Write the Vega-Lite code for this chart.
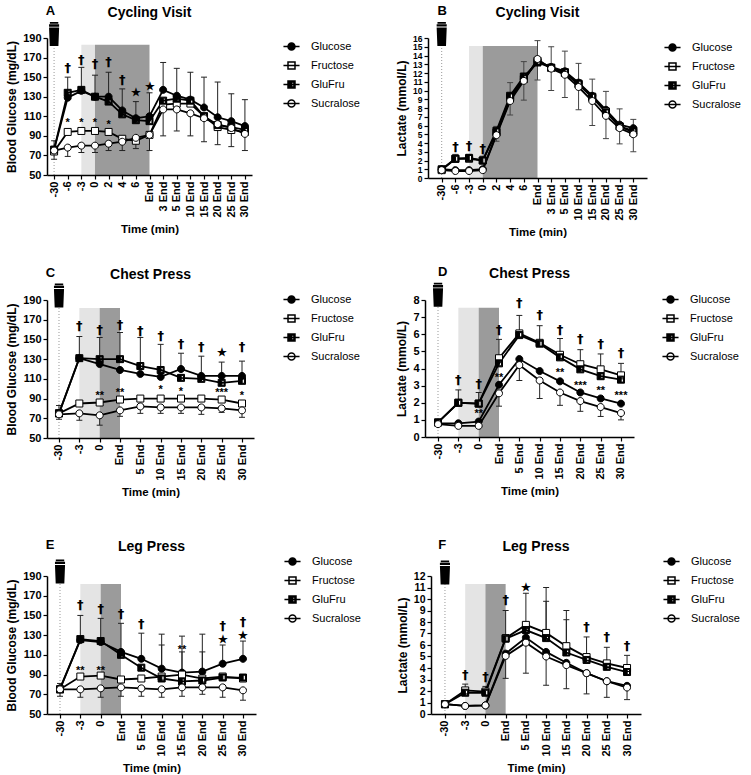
{
"$schema":"https://vega.github.io/schema/vega-lite/v6.json",
"background":"white",
"config":{
 "font":"Liberation Sans",
 "view":{"stroke":null},
 "axis":{"labelFont":"Liberation Sans","labelFontSize":11,"labelFontWeight":"bold","labelColor":"black","titleFont":"Liberation Sans","titleFontSize":12,"titleFontWeight":"bold","titleColor":"black","domainColor":"black","domainWidth":1.5,"tickColor":"black","tickWidth":1.2,"tickSize":4,"grid":false,"labelPadding":2,"labelOverlap":false},
 "axisX":{"labelAngle":-90,"titleFontSize":11.5,"titlePadding":6},
 "axisY":{"titlePadding":4},
 "title":{"font":"Liberation Sans","fontSize":14,"fontWeight":"bold","color":"black","offset":2},
 "legend":{"labelFont":"Liberation Sans","labelFontSize":11,"labelColor":"black","symbolSize":49,"labelOffset":14,"rowPadding":6}
},
"datasets":{
"pts":[
{"p":"A","s":"Glucose","t":"-30","v":76},{"p":"A","s":"Glucose","t":"-6","v":129},{"p":"A","s":"Glucose","t":"-3","v":136},{"p":"A","s":"Glucose","t":"0","v":130},{"p":"A","s":"Glucose","t":"2","v":130},{"p":"A","s":"Glucose","t":"4","v":116},{"p":"A","s":"Glucose","t":"6","v":108},{"p":"A","s":"Glucose","t":"End","v":110},{"p":"A","s":"Glucose","t":"3 End","v":137},{"p":"A","s":"Glucose","t":"5 End","v":131},{"p":"A","s":"Glucose","t":"10 End","v":127},{"p":"A","s":"Glucose","t":"15 End","v":119},{"p":"A","s":"Glucose","t":"20 End","v":109},{"p":"A","s":"Glucose","t":"25 End","v":105},{"p":"A","s":"Glucose","t":"30 End","v":100},
{"p":"A","s":"Fructose","t":"-30","v":74},{"p":"A","s":"Fructose","t":"-6","v":94},{"p":"A","s":"Fructose","t":"-3","v":95},{"p":"A","s":"Fructose","t":"0","v":95},{"p":"A","s":"Fructose","t":"2","v":94},{"p":"A","s":"Fructose","t":"4","v":87},{"p":"A","s":"Fructose","t":"6","v":85},{"p":"A","s":"Fructose","t":"End","v":91},{"p":"A","s":"Fructose","t":"3 End","v":122},{"p":"A","s":"Fructose","t":"5 End","v":123},{"p":"A","s":"Fructose","t":"10 End","v":123},{"p":"A","s":"Fructose","t":"15 End","v":110},{"p":"A","s":"Fructose","t":"20 End","v":99},{"p":"A","s":"Fructose","t":"25 End","v":96},{"p":"A","s":"Fructose","t":"30 End","v":94},
{"p":"A","s":"GluFru","t":"-30","v":76},{"p":"A","s":"GluFru","t":"-6","v":134},{"p":"A","s":"GluFru","t":"-3","v":137},{"p":"A","s":"GluFru","t":"0","v":130},{"p":"A","s":"GluFru","t":"2","v":125},{"p":"A","s":"GluFru","t":"4","v":112},{"p":"A","s":"GluFru","t":"6","v":106},{"p":"A","s":"GluFru","t":"End","v":105},{"p":"A","s":"GluFru","t":"3 End","v":126},{"p":"A","s":"GluFru","t":"5 End","v":128},{"p":"A","s":"GluFru","t":"10 End","v":126},{"p":"A","s":"GluFru","t":"15 End","v":110},{"p":"A","s":"GluFru","t":"20 End","v":101},{"p":"A","s":"GluFru","t":"25 End","v":99},{"p":"A","s":"GluFru","t":"30 End","v":96},
{"p":"A","s":"Sucralose","t":"-30","v":75},{"p":"A","s":"Sucralose","t":"-6","v":78},{"p":"A","s":"Sucralose","t":"-3","v":80},{"p":"A","s":"Sucralose","t":"0","v":80},{"p":"A","s":"Sucralose","t":"2","v":82},{"p":"A","s":"Sucralose","t":"4","v":84},{"p":"A","s":"Sucralose","t":"6","v":88},{"p":"A","s":"Sucralose","t":"End","v":91},{"p":"A","s":"Sucralose","t":"3 End","v":117},{"p":"A","s":"Sucralose","t":"5 End","v":117},{"p":"A","s":"Sucralose","t":"10 End","v":113},{"p":"A","s":"Sucralose","t":"15 End","v":108},{"p":"A","s":"Sucralose","t":"20 End","v":102},{"p":"A","s":"Sucralose","t":"25 End","v":98},{"p":"A","s":"Sucralose","t":"30 End","v":92},
{"p":"B","s":"Glucose","t":"-30","v":1.0},{"p":"B","s":"Glucose","t":"-6","v":0.9},{"p":"B","s":"Glucose","t":"-3","v":0.9},{"p":"B","s":"Glucose","t":"0","v":1.0},{"p":"B","s":"Glucose","t":"2","v":5.0},{"p":"B","s":"Glucose","t":"4","v":9.0},{"p":"B","s":"Glucose","t":"6","v":11.3},{"p":"B","s":"Glucose","t":"End","v":13.3},{"p":"B","s":"Glucose","t":"3 End","v":12.7},{"p":"B","s":"Glucose","t":"5 End","v":12.2},{"p":"B","s":"Glucose","t":"10 End","v":10.9},{"p":"B","s":"Glucose","t":"15 End","v":9.4},{"p":"B","s":"Glucose","t":"20 End","v":7.8},{"p":"B","s":"Glucose","t":"25 End","v":6.1},{"p":"B","s":"Glucose","t":"30 End","v":5.7},
{"p":"B","s":"Fructose","t":"-30","v":0.9},{"p":"B","s":"Fructose","t":"-6","v":2.2},{"p":"B","s":"Fructose","t":"-3","v":2.2},{"p":"B","s":"Fructose","t":"0","v":2.0},{"p":"B","s":"Fructose","t":"2","v":5.2},{"p":"B","s":"Fructose","t":"4","v":9.2},{"p":"B","s":"Fructose","t":"6","v":11.3},{"p":"B","s":"Fructose","t":"End","v":13.4},{"p":"B","s":"Fructose","t":"3 End","v":12.6},{"p":"B","s":"Fructose","t":"5 End","v":12.0},{"p":"B","s":"Fructose","t":"10 End","v":10.7},{"p":"B","s":"Fructose","t":"15 End","v":9.2},{"p":"B","s":"Fructose","t":"20 End","v":7.6},{"p":"B","s":"Fructose","t":"25 End","v":5.9},{"p":"B","s":"Fructose","t":"30 End","v":5.2},
{"p":"B","s":"GluFru","t":"-30","v":1.0},{"p":"B","s":"GluFru","t":"-6","v":2.2},{"p":"B","s":"GluFru","t":"-3","v":2.3},{"p":"B","s":"GluFru","t":"0","v":2.0},{"p":"B","s":"GluFru","t":"2","v":5.4},{"p":"B","s":"GluFru","t":"4","v":9.4},{"p":"B","s":"GluFru","t":"6","v":11.6},{"p":"B","s":"GluFru","t":"End","v":13.2},{"p":"B","s":"GluFru","t":"3 End","v":12.6},{"p":"B","s":"GluFru","t":"5 End","v":12.1},{"p":"B","s":"GluFru","t":"10 End","v":10.8},{"p":"B","s":"GluFru","t":"15 End","v":9.3},{"p":"B","s":"GluFru","t":"20 End","v":7.5},{"p":"B","s":"GluFru","t":"25 End","v":5.9},{"p":"B","s":"GluFru","t":"30 End","v":5.4},
{"p":"B","s":"Sucralose","t":"-30","v":0.9},{"p":"B","s":"Sucralose","t":"-6","v":0.8},{"p":"B","s":"Sucralose","t":"-3","v":0.8},{"p":"B","s":"Sucralose","t":"0","v":0.9},{"p":"B","s":"Sucralose","t":"2","v":4.9},{"p":"B","s":"Sucralose","t":"4","v":8.8},{"p":"B","s":"Sucralose","t":"6","v":11.1},{"p":"B","s":"Sucralose","t":"End","v":13.6},{"p":"B","s":"Sucralose","t":"3 End","v":12.5},{"p":"B","s":"Sucralose","t":"5 End","v":11.8},{"p":"B","s":"Sucralose","t":"10 End","v":10.4},{"p":"B","s":"Sucralose","t":"15 End","v":8.8},{"p":"B","s":"Sucralose","t":"20 End","v":7.1},{"p":"B","s":"Sucralose","t":"25 End","v":5.7},{"p":"B","s":"Sucralose","t":"30 End","v":5.0},
{"p":"C","s":"Glucose","t":"-30","v":75},{"p":"C","s":"Glucose","t":"-3","v":131},{"p":"C","s":"Glucose","t":"0","v":125},{"p":"C","s":"Glucose","t":"End","v":119},{"p":"C","s":"Glucose","t":"5 End","v":115},{"p":"C","s":"Glucose","t":"10 End","v":112},{"p":"C","s":"Glucose","t":"15 End","v":120},{"p":"C","s":"Glucose","t":"20 End","v":113},{"p":"C","s":"Glucose","t":"25 End","v":113},{"p":"C","s":"Glucose","t":"30 End","v":113},
{"p":"C","s":"Fructose","t":"-30","v":75},{"p":"C","s":"Fructose","t":"-3","v":85},{"p":"C","s":"Fructose","t":"0","v":86},{"p":"C","s":"Fructose","t":"End","v":89},{"p":"C","s":"Fructose","t":"5 End","v":90},{"p":"C","s":"Fructose","t":"10 End","v":90},{"p":"C","s":"Fructose","t":"15 End","v":90},{"p":"C","s":"Fructose","t":"20 End","v":90},{"p":"C","s":"Fructose","t":"25 End","v":89},{"p":"C","s":"Fructose","t":"30 End","v":85},
{"p":"C","s":"GluFru","t":"-30","v":75},{"p":"C","s":"GluFru","t":"-3","v":131},{"p":"C","s":"GluFru","t":"0","v":130},{"p":"C","s":"GluFru","t":"End","v":130},{"p":"C","s":"GluFru","t":"5 End","v":123},{"p":"C","s":"GluFru","t":"10 End","v":119},{"p":"C","s":"GluFru","t":"15 End","v":111},{"p":"C","s":"GluFru","t":"20 End","v":110},{"p":"C","s":"GluFru","t":"25 End","v":106},{"p":"C","s":"GluFru","t":"30 End","v":108},
{"p":"C","s":"Sucralose","t":"-30","v":74},{"p":"C","s":"Sucralose","t":"-3","v":75},{"p":"C","s":"Sucralose","t":"0","v":73},{"p":"C","s":"Sucralose","t":"End","v":78},{"p":"C","s":"Sucralose","t":"5 End","v":82},{"p":"C","s":"Sucralose","t":"10 End","v":81},{"p":"C","s":"Sucralose","t":"15 End","v":81},{"p":"C","s":"Sucralose","t":"20 End","v":81},{"p":"C","s":"Sucralose","t":"25 End","v":80},{"p":"C","s":"Sucralose","t":"30 End","v":78},
{"p":"D","s":"Glucose","t":"-30","v":0.8},{"p":"D","s":"Glucose","t":"-3","v":0.8},{"p":"D","s":"Glucose","t":"0","v":0.9},{"p":"D","s":"Glucose","t":"End","v":3.05},{"p":"D","s":"Glucose","t":"5 End","v":4.55},{"p":"D","s":"Glucose","t":"10 End","v":3.85},{"p":"D","s":"Glucose","t":"15 End","v":3.25},{"p":"D","s":"Glucose","t":"20 End","v":2.6},{"p":"D","s":"Glucose","t":"25 End","v":2.25},{"p":"D","s":"Glucose","t":"30 End","v":1.95},
{"p":"D","s":"Fructose","t":"-30","v":0.85},{"p":"D","s":"Fructose","t":"-3","v":2.0},{"p":"D","s":"Fructose","t":"0","v":1.95},{"p":"D","s":"Fructose","t":"End","v":4.6},{"p":"D","s":"Fructose","t":"5 End","v":6.05},{"p":"D","s":"Fructose","t":"10 End","v":5.5},{"p":"D","s":"Fructose","t":"15 End","v":4.8},{"p":"D","s":"Fructose","t":"20 End","v":4.25},{"p":"D","s":"Fructose","t":"25 End","v":3.95},{"p":"D","s":"Fructose","t":"30 End","v":3.6},
{"p":"D","s":"GluFru","t":"-30","v":0.85},{"p":"D","s":"GluFru","t":"-3","v":2.0},{"p":"D","s":"GluFru","t":"0","v":1.95},{"p":"D","s":"GluFru","t":"End","v":4.3},{"p":"D","s":"GluFru","t":"5 End","v":5.95},{"p":"D","s":"GluFru","t":"10 End","v":5.45},{"p":"D","s":"GluFru","t":"15 End","v":4.65},{"p":"D","s":"GluFru","t":"20 End","v":3.95},{"p":"D","s":"GluFru","t":"25 End","v":3.55},{"p":"D","s":"GluFru","t":"30 End","v":3.35},
{"p":"D","s":"Sucralose","t":"-30","v":0.75},{"p":"D","s":"Sucralose","t":"-3","v":0.65},{"p":"D","s":"Sucralose","t":"0","v":0.65},{"p":"D","s":"Sucralose","t":"End","v":2.55},{"p":"D","s":"Sucralose","t":"5 End","v":4.2},{"p":"D","s":"Sucralose","t":"10 End","v":3.3},{"p":"D","s":"Sucralose","t":"15 End","v":2.6},{"p":"D","s":"Sucralose","t":"20 End","v":2.1},{"p":"D","s":"Sucralose","t":"25 End","v":1.75},{"p":"D","s":"Sucralose","t":"30 End","v":1.4},
{"p":"E","s":"Glucose","t":"-30","v":76},{"p":"E","s":"Glucose","t":"-3","v":125},{"p":"E","s":"Glucose","t":"0","v":123},{"p":"E","s":"Glucose","t":"End","v":113},{"p":"E","s":"Glucose","t":"5 End","v":106},{"p":"E","s":"Glucose","t":"10 End","v":96},{"p":"E","s":"Glucose","t":"15 End","v":92},{"p":"E","s":"Glucose","t":"20 End","v":93},{"p":"E","s":"Glucose","t":"25 End","v":101},{"p":"E","s":"Glucose","t":"30 End","v":106},
{"p":"E","s":"Fructose","t":"-30","v":75},{"p":"E","s":"Fructose","t":"-3","v":88},{"p":"E","s":"Fructose","t":"0","v":89},{"p":"E","s":"Fructose","t":"End","v":85},{"p":"E","s":"Fructose","t":"5 End","v":86},{"p":"E","s":"Fructose","t":"10 End","v":88},{"p":"E","s":"Fructose","t":"15 End","v":90},{"p":"E","s":"Fructose","t":"20 End","v":86},{"p":"E","s":"Fructose","t":"25 End","v":88},{"p":"E","s":"Fructose","t":"30 End","v":86},
{"p":"E","s":"GluFru","t":"-30","v":75},{"p":"E","s":"GluFru","t":"-3","v":126},{"p":"E","s":"GluFru","t":"0","v":124},{"p":"E","s":"GluFru","t":"End","v":110},{"p":"E","s":"GluFru","t":"5 End","v":97},{"p":"E","s":"GluFru","t":"10 End","v":86},{"p":"E","s":"GluFru","t":"15 End","v":83},{"p":"E","s":"GluFru","t":"20 End","v":84},{"p":"E","s":"GluFru","t":"25 End","v":87},{"p":"E","s":"GluFru","t":"30 End","v":87},
{"p":"E","s":"Sucralose","t":"-30","v":75},{"p":"E","s":"Sucralose","t":"-3","v":75},{"p":"E","s":"Sucralose","t":"0","v":76},{"p":"E","s":"Sucralose","t":"End","v":77},{"p":"E","s":"Sucralose","t":"5 End","v":76},{"p":"E","s":"Sucralose","t":"10 End","v":75},{"p":"E","s":"Sucralose","t":"15 End","v":77},{"p":"E","s":"Sucralose","t":"20 End","v":77},{"p":"E","s":"Sucralose","t":"25 End","v":77},{"p":"E","s":"Sucralose","t":"30 End","v":74},
{"p":"F","s":"Glucose","t":"-30","v":0.85},{"p":"F","s":"Glucose","t":"-3","v":0.7},{"p":"F","s":"Glucose","t":"0","v":0.75},{"p":"F","s":"Glucose","t":"End","v":5.25},{"p":"F","s":"Glucose","t":"5 End","v":6.65},{"p":"F","s":"Glucose","t":"10 End","v":5.4},{"p":"F","s":"Glucose","t":"15 End","v":4.45},{"p":"F","s":"Glucose","t":"20 End","v":3.55},{"p":"F","s":"Glucose","t":"25 End","v":2.85},{"p":"F","s":"Glucose","t":"30 End","v":2.45},
{"p":"F","s":"Fructose","t":"-30","v":0.85},{"p":"F","s":"Fructose","t":"-3","v":2.05},{"p":"F","s":"Fructose","t":"0","v":1.95},{"p":"F","s":"Fructose","t":"End","v":6.6},{"p":"F","s":"Fructose","t":"5 End","v":7.75},{"p":"F","s":"Fructose","t":"10 End","v":7.05},{"p":"F","s":"Fructose","t":"15 End","v":5.9},{"p":"F","s":"Fructose","t":"20 End","v":4.95},{"p":"F","s":"Fructose","t":"25 End","v":4.4},{"p":"F","s":"Fructose","t":"30 End","v":4.0},
{"p":"F","s":"GluFru","t":"-30","v":0.85},{"p":"F","s":"GluFru","t":"-3","v":1.85},{"p":"F","s":"GluFru","t":"0","v":1.85},{"p":"F","s":"GluFru","t":"End","v":6.55},{"p":"F","s":"GluFru","t":"5 End","v":7.3},{"p":"F","s":"GluFru","t":"10 End","v":6.6},{"p":"F","s":"GluFru","t":"15 End","v":5.35},{"p":"F","s":"GluFru","t":"20 End","v":4.7},{"p":"F","s":"GluFru","t":"25 End","v":4.1},{"p":"F","s":"GluFru","t":"30 End","v":3.65},
{"p":"F","s":"Sucralose","t":"-30","v":0.85},{"p":"F","s":"Sucralose","t":"-3","v":0.7},{"p":"F","s":"Sucralose","t":"0","v":0.75},{"p":"F","s":"Sucralose","t":"End","v":5.05},{"p":"F","s":"Sucralose","t":"5 End","v":6.2},{"p":"F","s":"Sucralose","t":"10 End","v":5.0},{"p":"F","s":"Sucralose","t":"15 End","v":4.25},{"p":"F","s":"Sucralose","t":"20 End","v":3.55},{"p":"F","s":"Sucralose","t":"25 End","v":2.85},{"p":"F","s":"Sucralose","t":"30 End","v":2.3}
],
"err":[
{"p":"A","t":"-30","v":85,"v0":76},{"p":"A","t":"-30","v":66,"v0":75},{"p":"A","t":"-6","v":150,"v0":134},{"p":"A","t":"-6","v":69,"v0":78},{"p":"A","t":"-3","v":160,"v0":137},{"p":"A","t":"-3","v":73,"v0":80},{"p":"A","t":"0","v":152,"v0":130},{"p":"A","t":"0","v":73,"v0":80},{"p":"A","t":"2","v":155,"v0":130},{"p":"A","t":"2","v":75,"v0":82},{"p":"A","t":"4","v":138,"v0":116},{"p":"A","t":"4","v":75,"v0":84},{"p":"A","t":"6","v":125,"v0":108},{"p":"A","t":"6","v":77,"v0":88},{"p":"A","t":"End","v":134,"v0":110},{"p":"A","t":"End","v":75,"v0":91},{"p":"A","t":"3 End","v":165,"v0":137},{"p":"A","t":"3 End","v":90,"v0":117},{"p":"A","t":"5 End","v":159,"v0":131},{"p":"A","t":"5 End","v":95,"v0":117},{"p":"A","t":"10 End","v":155,"v0":127},{"p":"A","t":"10 End","v":90,"v0":113},{"p":"A","t":"15 End","v":150,"v0":119},{"p":"A","t":"15 End","v":84,"v0":108},{"p":"A","t":"20 End","v":145,"v0":109},{"p":"A","t":"20 End","v":81,"v0":102},{"p":"A","t":"25 End","v":133,"v0":105},{"p":"A","t":"25 End","v":79,"v0":98},{"p":"A","t":"30 End","v":127,"v0":100},{"p":"A","t":"30 End","v":75,"v0":92},
{"p":"B","t":"-6","v":2.7,"v0":2.2},{"p":"B","t":"-3","v":2.7,"v0":2.3},{"p":"B","t":"0","v":2.5,"v0":2.0},{"p":"B","t":"2","v":5.9,"v0":5.4},{"p":"B","t":"2","v":4.2,"v0":4.9},{"p":"B","t":"4","v":10.9,"v0":9.4},{"p":"B","t":"4","v":7.2,"v0":8.8},{"p":"B","t":"6","v":13.3,"v0":11.6},{"p":"B","t":"6","v":8.9,"v0":11.1},{"p":"B","t":"End","v":15.7,"v0":13.6},{"p":"B","t":"End","v":11.2,"v0":13.2},{"p":"B","t":"3 End","v":15.0,"v0":12.7},{"p":"B","t":"3 End","v":10.0,"v0":12.5},{"p":"B","t":"5 End","v":14.5,"v0":12.2},{"p":"B","t":"5 End","v":9.2,"v0":11.8},{"p":"B","t":"10 End","v":13.1,"v0":10.9},{"p":"B","t":"10 End","v":7.8,"v0":10.4},{"p":"B","t":"15 End","v":11.3,"v0":9.4},{"p":"B","t":"15 End","v":6.0,"v0":8.8},{"p":"B","t":"20 End","v":9.9,"v0":7.8},{"p":"B","t":"20 End","v":4.5,"v0":7.1},{"p":"B","t":"25 End","v":7.9,"v0":6.1},{"p":"B","t":"25 End","v":3.9,"v0":5.7},{"p":"B","t":"30 End","v":6.7,"v0":5.7},{"p":"B","t":"30 End","v":3.0,"v0":5.0},
{"p":"C","t":"-30","v":83,"v0":75},{"p":"C","t":"-30","v":69,"v0":74},{"p":"C","t":"-3","v":153,"v0":131},{"p":"C","t":"-3","v":68,"v0":75},{"p":"C","t":"0","v":152,"v0":130},{"p":"C","t":"0","v":63,"v0":73},{"p":"C","t":"End","v":157,"v0":130},{"p":"C","t":"End","v":72,"v0":78},{"p":"C","t":"5 End","v":152,"v0":123},{"p":"C","t":"5 End","v":75,"v0":82},{"p":"C","t":"10 End","v":145,"v0":119},{"p":"C","t":"10 End","v":75,"v0":81},{"p":"C","t":"15 End","v":136,"v0":120},{"p":"C","t":"15 End","v":75,"v0":81},{"p":"C","t":"20 End","v":133,"v0":113},{"p":"C","t":"20 End","v":74,"v0":81},{"p":"C","t":"25 End","v":127,"v0":113},{"p":"C","t":"25 End","v":76,"v0":80},{"p":"C","t":"30 End","v":128,"v0":113},{"p":"C","t":"30 End","v":71,"v0":78},
{"p":"D","t":"-3","v":2.75,"v0":2.0},{"p":"D","t":"0","v":2.6,"v0":1.95},{"p":"D","t":"End","v":5.7,"v0":4.6},{"p":"D","t":"End","v":1.8,"v0":2.55},{"p":"D","t":"5 End","v":7.1,"v0":6.05},{"p":"D","t":"5 End","v":3.3,"v0":4.2},{"p":"D","t":"10 End","v":6.5,"v0":5.5},{"p":"D","t":"10 End","v":2.25,"v0":3.3},{"p":"D","t":"15 End","v":5.75,"v0":4.8},{"p":"D","t":"15 End","v":1.85,"v0":2.6},{"p":"D","t":"20 End","v":5.1,"v0":4.25},{"p":"D","t":"20 End","v":1.5,"v0":2.1},{"p":"D","t":"25 End","v":4.85,"v0":3.95},{"p":"D","t":"25 End","v":1.2,"v0":1.75},{"p":"D","t":"30 End","v":4.3,"v0":3.6},{"p":"D","t":"30 End","v":1.0,"v0":1.4},
{"p":"E","t":"-30","v":81,"v0":76},{"p":"E","t":"-30","v":68,"v0":75},{"p":"E","t":"-3","v":150,"v0":126},{"p":"E","t":"-3","v":67,"v0":75},{"p":"E","t":"0","v":147,"v0":124},{"p":"E","t":"0","v":67,"v0":76},{"p":"E","t":"End","v":142,"v0":113},{"p":"E","t":"End","v":68,"v0":77},{"p":"E","t":"5 End","v":132,"v0":106},{"p":"E","t":"5 End","v":68,"v0":76},{"p":"E","t":"10 End","v":131,"v0":96},{"p":"E","t":"10 End","v":120,"v0":96},{"p":"E","t":"10 End","v":67,"v0":75},{"p":"E","t":"15 End","v":129,"v0":92},{"p":"E","t":"15 End","v":113,"v0":92},{"p":"E","t":"15 End","v":68,"v0":77},{"p":"E","t":"20 End","v":131,"v0":93},{"p":"E","t":"20 End","v":113,"v0":93},{"p":"E","t":"20 End","v":70,"v0":77},{"p":"E","t":"25 End","v":120,"v0":101},{"p":"E","t":"25 End","v":67,"v0":77},{"p":"E","t":"30 End","v":124,"v0":106},{"p":"E","t":"30 End","v":64,"v0":74},
{"p":"F","t":"-3","v":2.6,"v0":2.05},{"p":"F","t":"0","v":2.4,"v0":1.95},{"p":"F","t":"End","v":9.0,"v0":6.6},{"p":"F","t":"End","v":3.1,"v0":5.05},{"p":"F","t":"5 End","v":10.5,"v0":7.75},{"p":"F","t":"5 End","v":3.55,"v0":6.2},{"p":"F","t":"10 End","v":11.0,"v0":7.05},{"p":"F","t":"10 End","v":9.8,"v0":7.05},{"p":"F","t":"10 End","v":2.5,"v0":5.0},{"p":"F","t":"15 End","v":9.0,"v0":5.9},{"p":"F","t":"15 End","v":8.2,"v0":5.9},{"p":"F","t":"15 End","v":2.2,"v0":4.25},{"p":"F","t":"20 End","v":6.7,"v0":4.95},{"p":"F","t":"20 End","v":1.75,"v0":3.55},{"p":"F","t":"25 End","v":5.8,"v0":4.4},{"p":"F","t":"25 End","v":1.45,"v0":2.85},{"p":"F","t":"30 End","v":5.1,"v0":4.0},{"p":"F","t":"30 End","v":1.25,"v0":2.3}
],
"ann":[
{"p":"A","t":"-6","v":159,"txt":"†","k":"d"},{"p":"A","t":"-3","v":168,"txt":"†","k":"d"},{"p":"A","t":"0","v":163,"txt":"†","k":"d"},{"p":"A","t":"2","v":165,"txt":"†","k":"d"},{"p":"A","t":"4","v":147,"txt":"†","k":"d"},{"p":"A","t":"6","v":134,"txt":"★","k":"s"},{"p":"A","t":"End","v":140,"txt":"★","k":"s"},{"p":"A","t":"-6","v":103,"txt":"*","k":"a"},{"p":"A","t":"-3","v":103,"txt":"*","k":"a"},{"p":"A","t":"0","v":103,"txt":"*","k":"a"},{"p":"A","t":"2","v":101,"txt":"*","k":"a"},
{"p":"B","t":"-6","v":3.6,"txt":"†","k":"d"},{"p":"B","t":"-3","v":3.7,"txt":"†","k":"d"},{"p":"B","t":"0","v":3.3,"txt":"†","k":"d"},
{"p":"C","t":"-3","v":164,"txt":"†","k":"d"},{"p":"C","t":"0","v":160,"txt":"†","k":"d"},{"p":"C","t":"End","v":165,"txt":"†","k":"d"},{"p":"C","t":"5 End","v":159,"txt":"†","k":"d"},{"p":"C","t":"10 End","v":153,"txt":"†","k":"d"},{"p":"C","t":"15 End","v":145,"txt":"†","k":"d"},{"p":"C","t":"20 End","v":142,"txt":"†","k":"d"},{"p":"C","t":"25 End","v":136,"txt":"★","k":"s"},{"p":"C","t":"30 End","v":142,"txt":"†","k":"d"},{"p":"C","t":"0","v":93,"txt":"**","k":"a"},{"p":"C","t":"End","v":96,"txt":"**","k":"a"},{"p":"C","t":"10 End","v":98.5,"txt":"*","k":"a"},{"p":"C","t":"15 End","v":97,"txt":"*","k":"a"},{"p":"C","t":"25 End","v":96,"txt":"***","k":"a"},{"p":"C","t":"30 End","v":93,"txt":"*","k":"a"},
{"p":"D","t":"-3","v":3.35,"txt":"†","k":"d"},{"p":"D","t":"0","v":3.1,"txt":"†","k":"d"},{"p":"D","t":"End","v":6.25,"txt":"†","k":"d"},{"p":"D","t":"5 End","v":7.8,"txt":"†","k":"d"},{"p":"D","t":"10 End","v":7.1,"txt":"†","k":"d"},{"p":"D","t":"15 End","v":6.25,"txt":"†","k":"d"},{"p":"D","t":"20 End","v":5.7,"txt":"†","k":"d"},{"p":"D","t":"25 End","v":5.45,"txt":"†","k":"d"},{"p":"D","t":"30 End","v":4.9,"txt":"†","k":"d"},{"p":"D","t":"0","v":1.35,"txt":"**","k":"a"},{"p":"D","t":"End","v":3.45,"txt":"**","k":"a"},{"p":"D","t":"15 End","v":3.74,"txt":"**","k":"a"},{"p":"D","t":"20 End","v":2.96,"txt":"***","k":"a"},{"p":"D","t":"25 End","v":2.67,"txt":"**","k":"a"},{"p":"D","t":"30 End","v":2.38,"txt":"***","k":"a"},
{"p":"E","t":"-3","v":160.6,"txt":"†","k":"d"},{"p":"E","t":"0","v":157,"txt":"†","k":"d"},{"p":"E","t":"End","v":151.5,"txt":"†","k":"d"},{"p":"E","t":"5 End","v":141,"txt":"†","k":"d"},{"p":"E","t":"15 End","v":115,"txt":"**","k":"a"},{"p":"E","t":"25 End","v":139,"txt":"†","k":"d"},{"p":"E","t":"25 End","v":125,"txt":"★","k":"s"},{"p":"E","t":"30 End","v":143,"txt":"†","k":"d"},{"p":"E","t":"30 End","v":129,"txt":"★","k":"s"},{"p":"E","t":"-3","v":93.5,"txt":"**","k":"a"},{"p":"E","t":"0","v":93.5,"txt":"**","k":"a"},
{"p":"F","t":"-3","v":3.4,"txt":"†","k":"d"},{"p":"F","t":"0","v":3.25,"txt":"†","k":"d"},{"p":"F","t":"End","v":9.95,"txt":"†","k":"d"},{"p":"F","t":"5 End","v":11.0,"txt":"★","k":"s"},{"p":"F","t":"20 End","v":7.55,"txt":"†","k":"d"},{"p":"F","t":"25 End","v":6.7,"txt":"†","k":"d"},{"p":"F","t":"30 End","v":5.9,"txt":"†","k":"d"}
],
"shade":[
{"p":"A","c":"light","t":"-3","t2":"0","v":50,"v2":183},{"p":"A","c":"dark","t":"0","t2":"End","v":50,"v2":183},
{"p":"B","c":"light","t":"-3","t2":"0","v":0,"v2":15.1},{"p":"B","c":"dark","t":"0","t2":"End","v":0,"v2":15.1},
{"p":"C","c":"light","t":"-3","t2":"0","v":50,"v2":182},{"p":"C","c":"dark","t":"0","t2":"End","v":50,"v2":182},
{"p":"D","c":"light","t":"-3","t2":"0","v":0,"v2":7.55},{"p":"D","c":"dark","t":"0","t2":"End","v":0,"v2":7.55},
{"p":"E","c":"light","t":"-3","t2":"0","v":50,"v2":182},{"p":"E","c":"dark","t":"0","t2":"End","v":50,"v2":182},
{"p":"F","c":"light","t":"-3","t2":"0","v":0,"v2":11.3},{"p":"F","c":"dark","t":"0","t2":"End","v":0,"v2":11.3}
],
"dots":[
{"p":"A","t":"-30","v":50,"v2":182},{"p":"B","t":"-30","v":0,"v2":15.2},{"p":"C","t":"-30","v":50,"v2":182},{"p":"D","t":"-30","v":0,"v2":7.6},{"p":"E","t":"-30","v":50,"v2":182},{"p":"F","t":"-30","v":0,"v2":11.3}
],
"icon":[
{"p":"A","t":"-30","v":194},{"p":"B","t":"-30","v":16.45},{"p":"C","t":"-30","v":194.5},{"p":"D","t":"-30","v":8.3},{"p":"E","t":"-30","v":194.5},{"p":"F","t":"-30","v":12.3}
]
},
"resolve":{"scale":{"x":"independent","y":"independent","shape":"independent","fill":"independent","size":"independent"},"axis":{"x":"independent","y":"independent"}},
"spacing":27,
"vconcat":[
{"hconcat":[
 {"title":{"text":"A","anchor":"start","fontSize":13,"dx":40,"offset":-12},"resolve":{"scale":{"x":"independent","y":"independent","shape":"independent","fill":"independent","size":"independent"}},"hconcat":[
  {"title":{"text":"Cycling Visit","frame":"group"},"width":205,"height":137,
   "resolve":{"scale":{"shape":"independent","fill":"independent"}},
   "encoding":{"x":{"field":"t","type":"ordinal","sort":null,"scale":{"type":"point","domain":["-30","-6","-3","0","2","4","6","End","3 End","5 End","10 End","15 End","20 End","25 End","30 End"],"padding":0.52},"axis":{"title":"Time (min)"}},
    "y":{"field":"v","type":"quantitative","scale":{"domain":[50,190],"nice":false,"zero":false},"axis":{"title":"Blood Glucose (mg/dL)","values":[50,70,90,110,130,150,170,190]}}},
   "layer":[
    {"data":{"name":"shade"},"transform":[{"filter":"datum.p=='A' && datum.c=='light'"}],"mark":{"type":"rect","fill":"#e4e4e4"},"encoding":{"x2":{"field":"t2"},"y2":{"field":"v2"}}},
    {"data":{"name":"shade"},"transform":[{"filter":"datum.p=='A' && datum.c=='dark'"}],"mark":{"type":"rect","fill":"#9b9b9b"},"encoding":{"x2":{"field":"t2"},"y2":{"field":"v2"}}},
    {"data":{"name":"dots"},"transform":[{"filter":"datum.p=='A'"}],"mark":{"type":"rule","stroke":"#999999","strokeDash":[1,2],"strokeWidth":1},"encoding":{"y2":{"field":"v2"}}},
    {"data":{"name":"icon"},"transform":[{"filter":"datum.p=='A'"}],"mark":{"type":"point","shape":"M-0.35,-1H0.35V-0.86H-0.35ZM-0.42,-0.82H0.42V-0.62H-0.42ZM-0.42,-0.55H0.42L0.36,1H-0.36Z","size":576,"filled":true,"fill":"black","strokeWidth":0,"opacity":1}},
    {"data":{"name":"err"},"transform":[{"filter":"datum.p=='A'"}],"mark":{"type":"rule","stroke":"#222222","strokeWidth":1},"encoding":{"y2":{"field":"v0"}}},
    {"data":{"name":"err"},"transform":[{"filter":"datum.p=='A'"}],"mark":{"type":"tick","color":"#222222","thickness":1,"size":6,"opacity":1}},
    {"data":{"name":"pts"},"transform":[{"filter":"datum.p=='A'"}],"mark":{"type":"line","stroke":"black","strokeWidth":1.8},"encoding":{"detail":{"field":"s"}}},
    {"data":{"name":"pts"},"transform":[{"filter":"datum.p=='A'"}],"mark":{"type":"point","size":49,"stroke":"black","strokeWidth":1,"opacity":1},
     "encoding":{"shape":{"field":"s","type":"nominal","scale":{"domain":["Glucose","Fructose","GluFru","Sucralose"],"range":["M1,0A1,1,0,1,1,-1,0A1,1,0,1,1,1,0Z","M-1,-1H1V1H-1Z","M-1,-1H1V1H-1ZM0.05,-0.7V0.7H0.7V-0.7Z","M1,0A1,1,0,1,1,-1,0A1,1,0,1,1,1,0Z"]},"legend":null},
      "fill":{"field":"s","type":"nominal","scale":{"domain":["Glucose","Fructose","GluFru","Sucralose"],"range":["black","white","black","white"]},"legend":null}}},
    {"data":{"name":"pts"},"transform":[{"filter":"false"}],"mark":{"type":"point","size":49,"stroke":"black","strokeWidth":1.2,"opacity":1},
     "encoding":{"shape":{"field":"s","type":"nominal","scale":{"domain":["Glucose","Fructose","GluFru","Sucralose"],"range":["M-2.3,0H2.3M1,0A1,1,0,1,1,-1,0A1,1,0,1,1,1,0Z","M-2.3,0H2.3M-1,-1H1V1H-1Z","M-2.3,0H2.3M-1,-1H1V1H-1ZM0.05,-0.7V0.7H0.7V-0.7Z","M-2.3,0H2.3M1,0A1,1,0,1,1,-1,0A1,1,0,1,1,1,0Z"]},"legend":{"title":null,"orient":"none","legendX":239,"legendY":3}},
      "fill":{"field":"s","type":"nominal","scale":{"domain":["Glucose","Fructose","GluFru","Sucralose"],"range":["black","white","black","white"]},"legend":{"title":null,"orient":"none","legendX":239,"legendY":3}}}},
    {"data":{"name":"ann"},"transform":[{"filter":"datum.p=='A' && datum.k=='d'"}],"mark":{"type":"text","baseline":"middle","font":"DejaVu Sans","fontWeight":"bold","fontSize":13,"color":"black"},"encoding":{"text":{"field":"txt"}}},
    {"data":{"name":"ann"},"transform":[{"filter":"datum.p=='A' && datum.k!='d'"}],"mark":{"type":"text","baseline":"middle","font":"Liberation Sans","fontWeight":"bold","color":"black"},"encoding":{"text":{"field":"txt"},"size":{"field":"k","type":"nominal","scale":{"domain":["a","s"],"range":[11,10.5]},"legend":null}}}
   ]}
 ]},
 {"title":{"text":"B","anchor":"start","fontSize":13,"dx":42,"offset":-12},"resolve":{"scale":{"x":"independent","y":"independent","shape":"independent","fill":"independent","size":"independent"}},"hconcat":[
  {"title":{"text":"Cycling Visit","frame":"group"},"width":219,"height":140,
   "resolve":{"scale":{"shape":"independent","fill":"independent"}},
   "encoding":{"x":{"field":"t","type":"ordinal","sort":null,"scale":{"type":"point","domain":["-30","-6","-3","0","2","4","6","End","3 End","5 End","10 End","15 End","20 End","25 End","30 End"],"padding":1.03},"axis":{"title":"Time (min)"}},
    "y":{"field":"v","type":"quantitative","scale":{"domain":[0,16],"nice":false,"zero":false},"axis":{"title":"Lactate (mmol/L)","labelFontSize":8.5,"values":[0,1,2,3,4,5,6,7,8,9,10,11,12,13,14,15,16]}}},
   "layer":[
    {"data":{"name":"shade"},"transform":[{"filter":"datum.p=='B' && datum.c=='light'"}],"mark":{"type":"rect","fill":"#e4e4e4"},"encoding":{"x2":{"field":"t2"},"y2":{"field":"v2"}}},
    {"data":{"name":"shade"},"transform":[{"filter":"datum.p=='B' && datum.c=='dark'"}],"mark":{"type":"rect","fill":"#9b9b9b"},"encoding":{"x2":{"field":"t2"},"y2":{"field":"v2"}}},
    {"data":{"name":"dots"},"transform":[{"filter":"datum.p=='B'"}],"mark":{"type":"rule","stroke":"#999999","strokeDash":[1,2],"strokeWidth":1},"encoding":{"y2":{"field":"v2"}}},
    {"data":{"name":"icon"},"transform":[{"filter":"datum.p=='B'"}],"mark":{"type":"point","shape":"M-0.35,-1H0.35V-0.86H-0.35ZM-0.42,-0.82H0.42V-0.62H-0.42ZM-0.42,-0.55H0.42L0.36,1H-0.36Z","size":576,"filled":true,"fill":"black","strokeWidth":0,"opacity":1}},
    {"data":{"name":"err"},"transform":[{"filter":"datum.p=='B'"}],"mark":{"type":"rule","stroke":"#444444","strokeWidth":1},"encoding":{"y2":{"field":"v0"}}},
    {"data":{"name":"err"},"transform":[{"filter":"datum.p=='B'"}],"mark":{"type":"tick","color":"#444444","thickness":1,"size":6,"opacity":1}},
    {"data":{"name":"pts"},"transform":[{"filter":"datum.p=='B'"}],"mark":{"type":"line","stroke":"black","strokeWidth":1.8},"encoding":{"detail":{"field":"s"}}},
    {"data":{"name":"pts"},"transform":[{"filter":"datum.p=='B'"}],"mark":{"type":"point","size":49,"stroke":"black","strokeWidth":1,"opacity":1},
     "encoding":{"shape":{"field":"s","type":"nominal","scale":{"domain":["Glucose","Fructose","GluFru","Sucralose"],"range":["M1,0A1,1,0,1,1,-1,0A1,1,0,1,1,1,0Z","M-1,-1H1V1H-1Z","M-1,-1H1V1H-1ZM0.05,-0.7V0.7H0.7V-0.7Z","M1,0A1,1,0,1,1,-1,0A1,1,0,1,1,1,0Z"]},"legend":null},
      "fill":{"field":"s","type":"nominal","scale":{"domain":["Glucose","Fructose","GluFru","Sucralose"],"range":["black","white","black","white"]},"legend":null}}},
    {"data":{"name":"pts"},"transform":[{"filter":"false"}],"mark":{"type":"point","size":49,"stroke":"black","strokeWidth":1.2,"opacity":1},
     "encoding":{"shape":{"field":"s","type":"nominal","scale":{"domain":["Glucose","Fructose","GluFru","Sucralose"],"range":["M-2.3,0H2.3M1,0A1,1,0,1,1,-1,0A1,1,0,1,1,1,0Z","M-2.3,0H2.3M-1,-1H1V1H-1Z","M-2.3,0H2.3M-1,-1H1V1H-1ZM0.05,-0.7V0.7H0.7V-0.7Z","M-2.3,0H2.3M1,0A1,1,0,1,1,-1,0A1,1,0,1,1,1,0Z"]},"legend":{"title":null,"orient":"none","legendX":239,"legendY":4}},
      "fill":{"field":"s","type":"nominal","scale":{"domain":["Glucose","Fructose","GluFru","Sucralose"],"range":["black","white","black","white"]},"legend":{"title":null,"orient":"none","legendX":239,"legendY":4}}}},
    {"data":{"name":"ann"},"transform":[{"filter":"datum.p=='B' && datum.k=='d'"}],"mark":{"type":"text","baseline":"middle","font":"DejaVu Sans","fontWeight":"bold","fontSize":13,"color":"black"},"encoding":{"text":{"field":"txt"}}}
   ]}
 ]}
],"spacing":35,"resolve":{"scale":{"x":"independent","y":"independent","shape":"independent","fill":"independent","size":"independent"}}},
{"spacing":41,"resolve":{"scale":{"x":"independent","y":"independent","shape":"independent","fill":"independent","size":"independent"}},"vconcat":[
{"hconcat":[
 {"title":{"text":"C","anchor":"start","fontSize":13,"dx":40,"offset":-12},"resolve":{"scale":{"x":"independent","y":"independent","shape":"independent","fill":"independent","size":"independent"}},"hconcat":[
  {"title":{"text":"Chest Press","frame":"group"},"width":207,"height":138,
   "resolve":{"scale":{"shape":"independent","fill":"independent"}},
   "encoding":{"x":{"field":"t","type":"ordinal","sort":null,"scale":{"type":"point","domain":["-30","-3","0","End","5 End","10 End","15 End","20 End","25 End","30 End"],"padding":0.59},"axis":{"title":"Time (min)"}},
    "y":{"field":"v","type":"quantitative","scale":{"domain":[50,190],"nice":false,"zero":false},"axis":{"title":"Blood Glucose (mg/dL)","values":[50,70,90,110,130,150,170,190]}}},
   "layer":[
    {"data":{"name":"shade"},"transform":[{"filter":"datum.p=='C' && datum.c=='light'"}],"mark":{"type":"rect","fill":"#e4e4e4"},"encoding":{"x2":{"field":"t2"},"y2":{"field":"v2"}}},
    {"data":{"name":"shade"},"transform":[{"filter":"datum.p=='C' && datum.c=='dark'"}],"mark":{"type":"rect","fill":"#9b9b9b"},"encoding":{"x2":{"field":"t2"},"y2":{"field":"v2"}}},
    {"data":{"name":"dots"},"transform":[{"filter":"datum.p=='C'"}],"mark":{"type":"rule","stroke":"#999999","strokeDash":[1,2],"strokeWidth":1},"encoding":{"y2":{"field":"v2"}}},
    {"data":{"name":"icon"},"transform":[{"filter":"datum.p=='C'"}],"mark":{"type":"point","shape":"M-0.35,-1H0.35V-0.86H-0.35ZM-0.42,-0.82H0.42V-0.62H-0.42ZM-0.42,-0.55H0.42L0.36,1H-0.36Z","size":576,"filled":true,"fill":"black","strokeWidth":0,"opacity":1}},
    {"data":{"name":"err"},"transform":[{"filter":"datum.p=='C'"}],"mark":{"type":"rule","stroke":"#222222","strokeWidth":1},"encoding":{"y2":{"field":"v0"}}},
    {"data":{"name":"err"},"transform":[{"filter":"datum.p=='C'"}],"mark":{"type":"tick","color":"#222222","thickness":1,"size":6,"opacity":1}},
    {"data":{"name":"pts"},"transform":[{"filter":"datum.p=='C'"}],"mark":{"type":"line","stroke":"black","strokeWidth":1.8},"encoding":{"detail":{"field":"s"}}},
    {"data":{"name":"pts"},"transform":[{"filter":"datum.p=='C'"}],"mark":{"type":"point","size":49,"stroke":"black","strokeWidth":1,"opacity":1},
     "encoding":{"shape":{"field":"s","type":"nominal","scale":{"domain":["Glucose","Fructose","GluFru","Sucralose"],"range":["M1,0A1,1,0,1,1,-1,0A1,1,0,1,1,1,0Z","M-1,-1H1V1H-1Z","M-1,-1H1V1H-1ZM0.05,-0.7V0.7H0.7V-0.7Z","M1,0A1,1,0,1,1,-1,0A1,1,0,1,1,1,0Z"]},"legend":null},
      "fill":{"field":"s","type":"nominal","scale":{"domain":["Glucose","Fructose","GluFru","Sucralose"],"range":["black","white","black","white"]},"legend":null}}},
    {"data":{"name":"pts"},"transform":[{"filter":"false"}],"mark":{"type":"point","size":49,"stroke":"black","strokeWidth":1.2,"opacity":1},
     "encoding":{"shape":{"field":"s","type":"nominal","scale":{"domain":["Glucose","Fructose","GluFru","Sucralose"],"range":["M-2.3,0H2.3M1,0A1,1,0,1,1,-1,0A1,1,0,1,1,1,0Z","M-2.3,0H2.3M-1,-1H1V1H-1Z","M-2.3,0H2.3M-1,-1H1V1H-1ZM0.05,-0.7V0.7H0.7V-0.7Z","M-2.3,0H2.3M1,0A1,1,0,1,1,-1,0A1,1,0,1,1,1,0Z"]},"legend":{"title":null,"orient":"none","legendX":239,"legendY":-6}},
      "fill":{"field":"s","type":"nominal","scale":{"domain":["Glucose","Fructose","GluFru","Sucralose"],"range":["black","white","black","white"]},"legend":{"title":null,"orient":"none","legendX":239,"legendY":-6}}}},
    {"data":{"name":"ann"},"transform":[{"filter":"datum.p=='C' && datum.k=='d'"}],"mark":{"type":"text","baseline":"middle","font":"DejaVu Sans","fontWeight":"bold","fontSize":13,"color":"black"},"encoding":{"text":{"field":"txt"}}},
    {"data":{"name":"ann"},"transform":[{"filter":"datum.p=='C' && datum.k!='d'"}],"mark":{"type":"text","baseline":"middle","font":"Liberation Sans","fontWeight":"bold","color":"black"},"encoding":{"text":{"field":"txt"},"size":{"field":"k","type":"nominal","scale":{"domain":["a","s"],"range":[11,10.5]},"legend":null}}}
   ]}
 ]},
 {"title":{"text":"D","anchor":"start","fontSize":13,"dx":42,"offset":-12},"resolve":{"scale":{"x":"independent","y":"independent","shape":"independent","fill":"independent","size":"independent"}},"hconcat":[
  {"title":{"text":"Chest Press","frame":"group"},"width":209,"height":137,
   "resolve":{"scale":{"shape":"independent","fill":"independent"}},
   "encoding":{"x":{"field":"t","type":"ordinal","sort":null,"scale":{"type":"point","domain":["-30","-3","0","End","5 End","10 End","15 End","20 End","25 End","30 End"],"padding":0.64},"axis":{"title":"Time (min)"}},
    "y":{"field":"v","type":"quantitative","scale":{"domain":[0,8],"nice":false,"zero":false},"axis":{"title":"Lactate (mmol/L)","values":[0,1,2,3,4,5,6,7,8]}}},
   "layer":[
    {"data":{"name":"shade"},"transform":[{"filter":"datum.p=='D' && datum.c=='light'"}],"mark":{"type":"rect","fill":"#e4e4e4"},"encoding":{"x2":{"field":"t2"},"y2":{"field":"v2"}}},
    {"data":{"name":"shade"},"transform":[{"filter":"datum.p=='D' && datum.c=='dark'"}],"mark":{"type":"rect","fill":"#9b9b9b"},"encoding":{"x2":{"field":"t2"},"y2":{"field":"v2"}}},
    {"data":{"name":"dots"},"transform":[{"filter":"datum.p=='D'"}],"mark":{"type":"rule","stroke":"#999999","strokeDash":[1,2],"strokeWidth":1},"encoding":{"y2":{"field":"v2"}}},
    {"data":{"name":"icon"},"transform":[{"filter":"datum.p=='D'"}],"mark":{"type":"point","shape":"M-0.35,-1H0.35V-0.86H-0.35ZM-0.42,-0.82H0.42V-0.62H-0.42ZM-0.42,-0.55H0.42L0.36,1H-0.36Z","size":576,"filled":true,"fill":"black","strokeWidth":0,"opacity":1}},
    {"data":{"name":"err"},"transform":[{"filter":"datum.p=='D'"}],"mark":{"type":"rule","stroke":"#222222","strokeWidth":1},"encoding":{"y2":{"field":"v0"}}},
    {"data":{"name":"err"},"transform":[{"filter":"datum.p=='D'"}],"mark":{"type":"tick","color":"#222222","thickness":1,"size":6,"opacity":1}},
    {"data":{"name":"pts"},"transform":[{"filter":"datum.p=='D'"}],"mark":{"type":"line","stroke":"black","strokeWidth":1.8},"encoding":{"detail":{"field":"s"}}},
    {"data":{"name":"pts"},"transform":[{"filter":"datum.p=='D'"}],"mark":{"type":"point","size":49,"stroke":"black","strokeWidth":1,"opacity":1},
     "encoding":{"shape":{"field":"s","type":"nominal","scale":{"domain":["Glucose","Fructose","GluFru","Sucralose"],"range":["M1,0A1,1,0,1,1,-1,0A1,1,0,1,1,1,0Z","M-1,-1H1V1H-1Z","M-1,-1H1V1H-1ZM0.05,-0.7V0.7H0.7V-0.7Z","M1,0A1,1,0,1,1,-1,0A1,1,0,1,1,1,0Z"]},"legend":null},
      "fill":{"field":"s","type":"nominal","scale":{"domain":["Glucose","Fructose","GluFru","Sucralose"],"range":["black","white","black","white"]},"legend":null}}},
    {"data":{"name":"pts"},"transform":[{"filter":"false"}],"mark":{"type":"point","size":49,"stroke":"black","strokeWidth":1.2,"opacity":1},
     "encoding":{"shape":{"field":"s","type":"nominal","scale":{"domain":["Glucose","Fructose","GluFru","Sucralose"],"range":["M-2.3,0H2.3M1,0A1,1,0,1,1,-1,0A1,1,0,1,1,1,0Z","M-2.3,0H2.3M-1,-1H1V1H-1Z","M-2.3,0H2.3M-1,-1H1V1H-1ZM0.05,-0.7V0.7H0.7V-0.7Z","M-2.3,0H2.3M1,0A1,1,0,1,1,-1,0A1,1,0,1,1,1,0Z"]},"legend":{"title":null,"orient":"none","legendX":240,"legendY":-6}},
      "fill":{"field":"s","type":"nominal","scale":{"domain":["Glucose","Fructose","GluFru","Sucralose"],"range":["black","white","black","white"]},"legend":{"title":null,"orient":"none","legendX":240,"legendY":-6}}}},
    {"data":{"name":"ann"},"transform":[{"filter":"datum.p=='D' && datum.k=='d'"}],"mark":{"type":"text","baseline":"middle","font":"DejaVu Sans","fontWeight":"bold","fontSize":13,"color":"black"},"encoding":{"text":{"field":"txt"}}},
    {"data":{"name":"ann"},"transform":[{"filter":"datum.p=='D' && datum.k!='d'"}],"mark":{"type":"text","baseline":"middle","font":"Liberation Sans","fontWeight":"bold","color":"black"},"encoding":{"text":{"field":"txt"},"size":{"field":"k","type":"nominal","scale":{"domain":["a","s"],"range":[11,10.5]},"legend":null}}}
   ]}
 ]}
],"spacing":35,"resolve":{"scale":{"x":"independent","y":"independent","shape":"independent","fill":"independent","size":"independent"}}},
{"hconcat":[
 {"title":{"text":"E","anchor":"start","fontSize":13,"dx":40,"offset":-12},"resolve":{"scale":{"x":"independent","y":"independent","shape":"independent","fill":"independent","size":"independent"}},"hconcat":[
  {"title":{"text":"Leg Press","frame":"group"},"width":209,"height":138,
   "resolve":{"scale":{"shape":"independent","fill":"independent"}},
   "encoding":{"x":{"field":"t","type":"ordinal","sort":null,"scale":{"type":"point","domain":["-30","-3","0","End","5 End","10 End","15 End","20 End","25 End","30 End"],"padding":0.64},"axis":{"title":"Time (min)"}},
    "y":{"field":"v","type":"quantitative","scale":{"domain":[50,190],"nice":false,"zero":false},"axis":{"title":"Blood Glucose (mg/dL)","values":[50,70,90,110,130,150,170,190]}}},
   "layer":[
    {"data":{"name":"shade"},"transform":[{"filter":"datum.p=='E' && datum.c=='light'"}],"mark":{"type":"rect","fill":"#e4e4e4"},"encoding":{"x2":{"field":"t2"},"y2":{"field":"v2"}}},
    {"data":{"name":"shade"},"transform":[{"filter":"datum.p=='E' && datum.c=='dark'"}],"mark":{"type":"rect","fill":"#9b9b9b"},"encoding":{"x2":{"field":"t2"},"y2":{"field":"v2"}}},
    {"data":{"name":"dots"},"transform":[{"filter":"datum.p=='E'"}],"mark":{"type":"rule","stroke":"#999999","strokeDash":[1,2],"strokeWidth":1},"encoding":{"y2":{"field":"v2"}}},
    {"data":{"name":"icon"},"transform":[{"filter":"datum.p=='E'"}],"mark":{"type":"point","shape":"M-0.35,-1H0.35V-0.86H-0.35ZM-0.42,-0.82H0.42V-0.62H-0.42ZM-0.42,-0.55H0.42L0.36,1H-0.36Z","size":576,"filled":true,"fill":"black","strokeWidth":0,"opacity":1}},
    {"data":{"name":"err"},"transform":[{"filter":"datum.p=='E'"}],"mark":{"type":"rule","stroke":"#222222","strokeWidth":1},"encoding":{"y2":{"field":"v0"}}},
    {"data":{"name":"err"},"transform":[{"filter":"datum.p=='E'"}],"mark":{"type":"tick","color":"#222222","thickness":1,"size":6,"opacity":1}},
    {"data":{"name":"pts"},"transform":[{"filter":"datum.p=='E'"}],"mark":{"type":"line","stroke":"black","strokeWidth":1.8},"encoding":{"detail":{"field":"s"}}},
    {"data":{"name":"pts"},"transform":[{"filter":"datum.p=='E'"}],"mark":{"type":"point","size":49,"stroke":"black","strokeWidth":1,"opacity":1},
     "encoding":{"shape":{"field":"s","type":"nominal","scale":{"domain":["Glucose","Fructose","GluFru","Sucralose"],"range":["M1,0A1,1,0,1,1,-1,0A1,1,0,1,1,1,0Z","M-1,-1H1V1H-1Z","M-1,-1H1V1H-1ZM0.05,-0.7V0.7H0.7V-0.7Z","M1,0A1,1,0,1,1,-1,0A1,1,0,1,1,1,0Z"]},"legend":null},
      "fill":{"field":"s","type":"nominal","scale":{"domain":["Glucose","Fructose","GluFru","Sucralose"],"range":["black","white","black","white"]},"legend":null}}},
    {"data":{"name":"pts"},"transform":[{"filter":"false"}],"mark":{"type":"point","size":49,"stroke":"black","strokeWidth":1.2,"opacity":1},
     "encoding":{"shape":{"field":"s","type":"nominal","scale":{"domain":["Glucose","Fructose","GluFru","Sucralose"],"range":["M-2.3,0H2.3M1,0A1,1,0,1,1,-1,0A1,1,0,1,1,1,0Z","M-2.3,0H2.3M-1,-1H1V1H-1Z","M-2.3,0H2.3M-1,-1H1V1H-1ZM0.05,-0.7V0.7H0.7V-0.7Z","M-2.3,0H2.3M1,0A1,1,0,1,1,-1,0A1,1,0,1,1,1,0Z"]},"legend":{"title":null,"orient":"none","legendX":240,"legendY":-20}},
      "fill":{"field":"s","type":"nominal","scale":{"domain":["Glucose","Fructose","GluFru","Sucralose"],"range":["black","white","black","white"]},"legend":{"title":null,"orient":"none","legendX":240,"legendY":-20}}}},
    {"data":{"name":"ann"},"transform":[{"filter":"datum.p=='E' && datum.k=='d'"}],"mark":{"type":"text","baseline":"middle","font":"DejaVu Sans","fontWeight":"bold","fontSize":13,"color":"black"},"encoding":{"text":{"field":"txt"}}},
    {"data":{"name":"ann"},"transform":[{"filter":"datum.p=='E' && datum.k!='d'"}],"mark":{"type":"text","baseline":"middle","font":"Liberation Sans","fontWeight":"bold","color":"black"},"encoding":{"text":{"field":"txt"},"size":{"field":"k","type":"nominal","scale":{"domain":["a","s"],"range":[11,10.5]},"legend":null}}}
   ]}
 ]},
 {"title":{"text":"F","anchor":"start","fontSize":13,"dx":42,"offset":-12},"resolve":{"scale":{"x":"independent","y":"independent","shape":"independent","fill":"independent","size":"independent"}},"hconcat":[
  {"title":{"text":"Leg Press","frame":"group"},"width":210,"height":138,
   "resolve":{"scale":{"shape":"independent","fill":"independent"}},
   "encoding":{"x":{"field":"t","type":"ordinal","sort":null,"scale":{"type":"point","domain":["-30","-3","0","End","5 End","10 End","15 End","20 End","25 End","30 End"],"padding":0.69},"axis":{"title":"Time (min)"}},
    "y":{"field":"v","type":"quantitative","scale":{"domain":[0,12],"nice":false,"zero":false},"axis":{"title":"Lactate (mmol/L)","labelFontSize":10.5,"values":[0,1,2,3,4,5,6,7,8,9,10,11,12]}}},
   "layer":[
    {"data":{"name":"shade"},"transform":[{"filter":"datum.p=='F' && datum.c=='light'"}],"mark":{"type":"rect","fill":"#e4e4e4"},"encoding":{"x2":{"field":"t2"},"y2":{"field":"v2"}}},
    {"data":{"name":"shade"},"transform":[{"filter":"datum.p=='F' && datum.c=='dark'"}],"mark":{"type":"rect","fill":"#9b9b9b"},"encoding":{"x2":{"field":"t2"},"y2":{"field":"v2"}}},
    {"data":{"name":"dots"},"transform":[{"filter":"datum.p=='F'"}],"mark":{"type":"rule","stroke":"#999999","strokeDash":[1,2],"strokeWidth":1},"encoding":{"y2":{"field":"v2"}}},
    {"data":{"name":"icon"},"transform":[{"filter":"datum.p=='F'"}],"mark":{"type":"point","shape":"M-0.35,-1H0.35V-0.86H-0.35ZM-0.42,-0.82H0.42V-0.62H-0.42ZM-0.42,-0.55H0.42L0.36,1H-0.36Z","size":576,"filled":true,"fill":"black","strokeWidth":0,"opacity":1}},
    {"data":{"name":"err"},"transform":[{"filter":"datum.p=='F'"}],"mark":{"type":"rule","stroke":"#222222","strokeWidth":1},"encoding":{"y2":{"field":"v0"}}},
    {"data":{"name":"err"},"transform":[{"filter":"datum.p=='F'"}],"mark":{"type":"tick","color":"#222222","thickness":1,"size":6,"opacity":1}},
    {"data":{"name":"pts"},"transform":[{"filter":"datum.p=='F'"}],"mark":{"type":"line","stroke":"black","strokeWidth":1.8},"encoding":{"detail":{"field":"s"}}},
    {"data":{"name":"pts"},"transform":[{"filter":"datum.p=='F'"}],"mark":{"type":"point","size":49,"stroke":"black","strokeWidth":1,"opacity":1},
     "encoding":{"shape":{"field":"s","type":"nominal","scale":{"domain":["Glucose","Fructose","GluFru","Sucralose"],"range":["M1,0A1,1,0,1,1,-1,0A1,1,0,1,1,1,0Z","M-1,-1H1V1H-1Z","M-1,-1H1V1H-1ZM0.05,-0.7V0.7H0.7V-0.7Z","M1,0A1,1,0,1,1,-1,0A1,1,0,1,1,1,0Z"]},"legend":null},
      "fill":{"field":"s","type":"nominal","scale":{"domain":["Glucose","Fructose","GluFru","Sucralose"],"range":["black","white","black","white"]},"legend":null}}},
    {"data":{"name":"pts"},"transform":[{"filter":"false"}],"mark":{"type":"point","size":49,"stroke":"black","strokeWidth":1.2,"opacity":1},
     "encoding":{"shape":{"field":"s","type":"nominal","scale":{"domain":["Glucose","Fructose","GluFru","Sucralose"],"range":["M-2.3,0H2.3M1,0A1,1,0,1,1,-1,0A1,1,0,1,1,1,0Z","M-2.3,0H2.3M-1,-1H1V1H-1Z","M-2.3,0H2.3M-1,-1H1V1H-1ZM0.05,-0.7V0.7H0.7V-0.7Z","M-2.3,0H2.3M1,0A1,1,0,1,1,-1,0A1,1,0,1,1,1,0Z"]},"legend":{"title":null,"orient":"none","legendX":235,"legendY":-20}},
      "fill":{"field":"s","type":"nominal","scale":{"domain":["Glucose","Fructose","GluFru","Sucralose"],"range":["black","white","black","white"]},"legend":{"title":null,"orient":"none","legendX":235,"legendY":-20}}}},
    {"data":{"name":"ann"},"transform":[{"filter":"datum.p=='F' && datum.k=='d'"}],"mark":{"type":"text","baseline":"middle","font":"DejaVu Sans","fontWeight":"bold","fontSize":13,"color":"black"},"encoding":{"text":{"field":"txt"}}},
    {"data":{"name":"ann"},"transform":[{"filter":"datum.p=='F' && datum.k!='d'"}],"mark":{"type":"text","baseline":"middle","font":"Liberation Sans","fontWeight":"bold","color":"black"},"encoding":{"text":{"field":"txt"},"size":{"field":"k","type":"nominal","scale":{"domain":["a","s"],"range":[11,10.5]},"legend":null}}}
   ]}
 ]}
],"spacing":35,"resolve":{"scale":{"x":"independent","y":"independent","shape":"independent","fill":"independent","size":"independent"}}}
]}
]
}
